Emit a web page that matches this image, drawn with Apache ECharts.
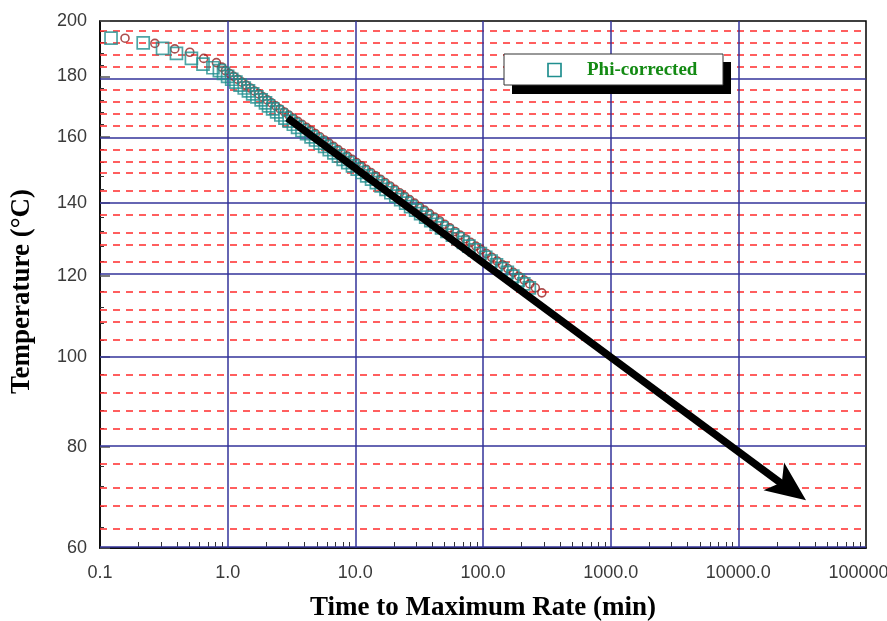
<!DOCTYPE html>
<html><head><meta charset="utf-8">
<script src="https://cdn.jsdelivr.net/npm/echarts@6/dist/echarts.min.js"></script>
<style>html,body{margin:0;padding:0;background:#fff}#c{width:887px;height:621px}</style>
</head><body><div id="c"></div>
<script>
// ---- data ----
const xMajorTicks = [0.1, 1, 10, 100, 1000, 10000, 100000];
const xTickLabels = ['0.1', '1.0', '10.0', '100.0', '1000.0', '10000.0', '100000.0'];
const xMinorTicks = [0.2,0.3,0.4,0.5,0.6,0.7,0.8,0.9, 2,3,4,5,6,7,8,9, 20,30,40,50,60,70,80,90,
  200,300,400,500,600,700,800,900, 2000,3000,4000,5000,6000,7000,8000,9000,
  20000,30000,40000,50000,60000,70000,80000,90000];
const yMajorTicks = [60, 80, 100, 120, 140, 160, 180, 200];
const yMinorTicks = [64,68,72,76, 84,88,92,96, 104,108,112,116, 124,128,132,136, 144,148,152,156, 164,168,172,176, 184,188,192,196];

const tealTemp = [193.6,191.9,189.9,188.1,186.3,184.3,183.0,
  182,181,180,179,178,177,176,175,174,173,172,171,170,169,168,167,166,165,164,163,162,161,160,
  159,158,157,156,155,154,153,152,151,150,149,148,147,146,145,144,143,142,141,140,
  139,138,137,136,135,134,133,132,131,130,129,128,127,126,125,124,123,122,121,120,119,118,117];
const tealTime = [0.122,0.218,0.309,0.397,0.520,0.641,0.767,
  0.861,0.928,0.999,1.076,1.160,1.251,1.349,1.455,1.570,1.695,1.830,1.978,2.09,2.25,2.42,2.61,2.81,3.03,3.27,3.53,3.82,4.15,4.50,
  4.88,5.30,5.75,6.25,6.79,7.38,8.03,8.73,9.50,10.35,11.28,12.28,13.40,14.61,15.93,17.39,18.98,20.75,22.67,24.79,
  27.11,29.67,32.48,35.57,39.00,42.97,47.36,52.25,57.65,63.62,70.28,77.63,85.83,95.39,105.0,115.7,127.5,140.5,155.0,171.1,188.9,208.6,230.6];

const redTemp = [193.6,191.7,189.7,188.5,186.3,184.8,183.2,
  182,181,180,179,178,177,176,175,174,173,172,171,170,169,168,167,166,165,164,163,162,161,160,
  159,158,157,156,155,154,153,152,151,150,149,148,147,146,145,144,143,142,141,140,
  139,138,137,136,135,134,133,132,131,130,129,128,127,126,125,124,123,122,121,120,119,118,117,115.7];
const redTime = [0.157,0.269,0.385,0.505,0.649,0.816,0.900,
  0.960,1.033,1.113,1.199,1.292,1.393,1.503,1.621,1.750,1.889,2.040,2.203,2.381,2.574,2.783,3.011,3.260,3.529,3.821,4.140,4.486,4.864,5.277,
  5.725,6.214,6.748,7.328,7.964,8.658,9.415,10.24,11.15,12.14,13.22,14.41,15.71,17.13,18.69,20.40,22.27,24.33,26.59,29.08,
  31.80,34.79,38.10,41.72,45.74,50.13,54.97,60.33,66.22,72.71,79.91,87.83,96.61,106.3,117.0,128.9,142.0,156.6,172.7,190.6,210.5,232.4,256.9,289];

// arrow: start, end of shaft, tip of head
const arrowTime = [2.94, 25500, 33900];
const arrowTemp = [166, 71.2, 69.2];
const legendName = 'Phi-corrected';

// ---- scale: temperature axis is linear in -1/T(K) ----
const inv = T => -1000 / (T + 273.15);
const back = v => -1000 / v - 273.15;

const chart = echarts.init(document.getElementById('c'), null, {renderer: 'canvas'});

const gridLines = [];
yMinorTicks.forEach(T => gridLines.push({yAxis: inv(T), lineStyle: {color: '#ff2a2a', width: 1.6, type: [7, 6]}}));
yMajorTicks.forEach(T => gridLines.push({yAxis: inv(T), lineStyle: {color: '#33339a', width: 1.5, type: 'solid'}}));
xMajorTicks.slice(1, -1).forEach(x => gridLines.push({xAxis: x, lineStyle: {color: '#33339a', width: 1.5, type: 'solid'}}));

const arrowStartPt = [arrowTime[0], inv(arrowTemp[0])];
const arrowEndPt = [arrowTime[1], inv(arrowTemp[1])];
const arrowTipPt = [arrowTime[2], inv(arrowTemp[2])];

function buildOption(headRotate) {
  return {
  animation: false,
  backgroundColor: '#fff',
  grid: {left: 100, right: 21, top: 21, bottom: 73, show: true, borderColor: '#000', borderWidth: 1.5,
    backgroundColor: '#fff', containLabel: false, outerBoundsMode: 'none'},
  xAxis: [{
    type: 'log', logBase: 10, min: 0.1, max: 100000, position: 'bottom',
    name: 'Time to Maximum Rate (min)', nameLocation: 'middle', nameGap: 47,
    nameTextStyle: {fontFamily: 'Liberation Serif', fontWeight: 'bold', fontSize: 27, color: '#000'},
    axisLine: {show: true, onZero: false, lineStyle: {color: '#000', width: 1.5}},
    axisTick: {show: false},
    splitLine: {show: false},
    axisLabel: {customValues: xMajorTicks, margin: 16, fontFamily: 'Liberation Sans', fontSize: 18, color: '#3a3a3a',
      formatter: v => xTickLabels[xMajorTicks.findIndex(t => Math.abs(Math.log10(t) - Math.log10(v)) < 1e-6)] || ''}
  }, {
    type: 'log', logBase: 10, min: 0.1, max: 100000, position: 'bottom',
    axisLine: {show: false, onZero: false},
    axisTick: {show: true, inside: true, length: 6, customValues: xMinorTicks, lineStyle: {color: '#333', width: 1}},
    axisLabel: {show: false}, splitLine: {show: false}
  }],
  yAxis: [{
    type: 'value', min: inv(60), max: inv(200), position: 'left',
    name: 'Temperature (°C)', nameLocation: 'middle', nameGap: 64, nameRotate: 90,
    nameTextStyle: {fontFamily: 'Liberation Serif', fontWeight: 'bold', fontSize: 27, color: '#000', padding: [0, 14, 0, 0]},
    axisLine: {show: true, onZero: false, lineStyle: {color: '#000', width: 1.5}},
    axisTick: {show: true, inside: true, length: 10, customValues: yMajorTicks.map(inv), lineStyle: {color: '#555', width: 1.5}},
    splitLine: {show: false},
    axisLabel: {customValues: yMajorTicks.map(inv), margin: 13, fontFamily: 'Liberation Sans', fontSize: 18, color: '#3a3a3a',
      formatter: v => String(Math.round(back(v)))}
  }, {
    type: 'value', min: inv(60), max: inv(200), position: 'left',
    axisLine: {show: false, onZero: false},
    axisTick: {show: true, inside: true, length: 4, customValues: yMinorTicks.map(inv), lineStyle: {color: '#333', width: 1}},
    axisLabel: {show: false}, splitLine: {show: false}
  }],
  series: [{
    name: 'grid', type: 'line', data: [], z: 1, silent: true,
    markLine: {silent: true, symbol: ['none', 'none'], label: {show: false}, emphasis: {disabled: true}, data: gridLines, z: 1}
  }, {
    name: 'Raw', type: 'scatter', z: 3, symbol: 'circle', symbolSize: 8,
    itemStyle: {color: 'rgba(0,0,0,0)', borderColor: '#962222', borderWidth: 1.6},
    data: redTime.map((t, i) => [t, inv(redTemp[i])])
  }, {
    name: legendName, type: 'scatter', z: 4, symbol: 'rect', symbolSize: 12,
    itemStyle: {color: 'rgba(0,0,0,0)', borderColor: '#218f8f', borderWidth: 1.7},
    data: tealTime.map((t, i) => [t, inv(tealTemp[i])])
  }, {
    name: 'arrow', type: 'line', data: [], z: 10, silent: true,
    markLine: {silent: true, z: 10, symbol: ['none', 'none'], label: {show: false},
      emphasis: {disabled: true},
      lineStyle: {color: '#000', width: 7.5, type: 'solid'},
      data: [[{coord: arrowStartPt}, {coord: arrowEndPt}]]}
  }, {
    name: 'arrowHead', type: 'scatter', z: 11, silent: true,
    symbol: 'arrow', symbolSize: [26, 40], symbolRotate: headRotate,
    itemStyle: {color: '#000', opacity: headRotate == null ? 0 : 1},
    data: [arrowTipPt]
  }],
  graphic: [
    {type: 'rect', z: 100, shape: {x: 512, y: 62, width: 219, height: 32}, style: {fill: '#000'}},
    {type: 'rect', z: 101, shape: {x: 504, y: 54, width: 219, height: 31}, style: {fill: '#fff', stroke: '#333', lineWidth: 1}},
    {type: 'rect', z: 102, shape: {x: 548, y: 63.5, width: 13, height: 13}, style: {fill: 'none', stroke: '#218f8f', lineWidth: 1.7}},
    {type: 'text', z: 102, x: 587, y: 70, style: {text: legendName, fill: '#138a13', font: 'bold 19px "Liberation Serif"', verticalAlign: 'middle', align: 'left'}}
  ]
  };
}
chart.setOption(buildOption(null));
const p0 = chart.convertToPixel({xAxisIndex: 0, yAxisIndex: 0}, arrowStartPt);
const p1 = chart.convertToPixel({xAxisIndex: 0, yAxisIndex: 0}, arrowTipPt);
const rot = Math.atan2(-(p1[0] - p0[0]), -(p1[1] - p0[1])) * 180 / Math.PI;
chart.setOption(buildOption(rot));
</script></body></html>
